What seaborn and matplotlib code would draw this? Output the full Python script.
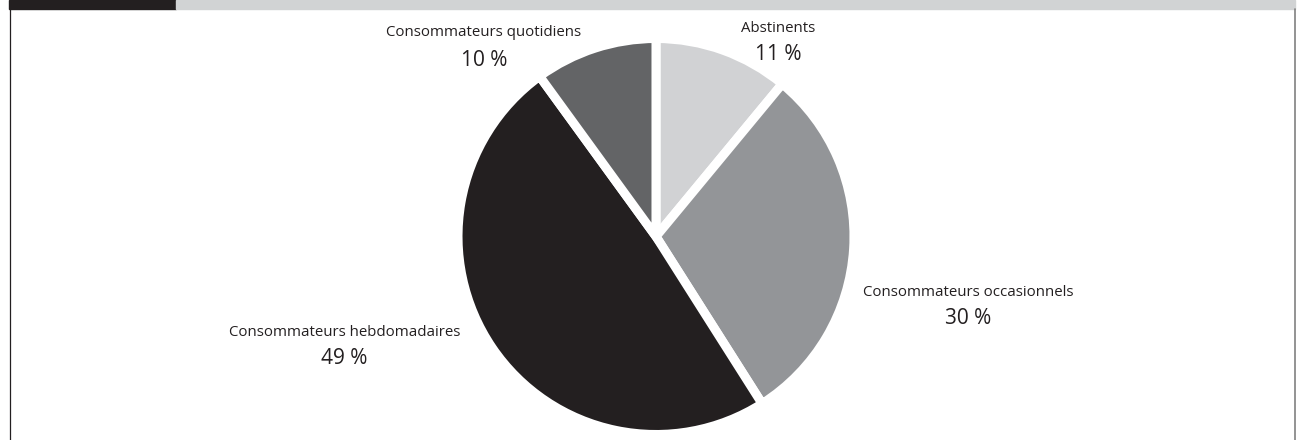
import matplotlib
matplotlib.use("Agg")
import matplotlib.pyplot as plt
import matplotlib.patches as mpatches
import matplotlib.lines as mlines
import seaborn as sns

# -------------------------
# DATA
# -------------------------
categories = ["Abstinents", "Consommateurs occasionnels",
              "Consommateurs hebdomadaires", "Consommateurs quotidiens"]
shares = [11, 30, 49, 10]
pct_labels = ["11 %", "30 %", "49 %", "10 %"]

# greys used in the original
colors = ["#d1d2d4", "#939598", "#231f20", "#636466"]

# label anchors (figure pixels): name line and percent line
name_pos = [(778, 29), (968, 292), (345, 332), (484, 33)]
pct_pos = [(778, 55), (968, 318), (344, 358), (484, 60)]

# -------------------------
# STYLE
# -------------------------
sns.set_theme(style="white")
plt.rcParams["font.family"] = ["Open Sans", "DejaVu Sans"]

W, H = 1300, 440
fig = plt.figure(figsize=(W / 100, H / 100), dpi=100)
fig.patch.set_facecolor("white")

# pie axes centred at (656, 236.5) px, radius 1 -> 198 px
cx, cy, r = 656, 236.5, 198
ax = fig.add_axes([(cx - r) / W, (H - cy - r) / H, 2 * r / W, 2 * r / H])
ax.pie(shares, colors=colors, startangle=90, counterclock=False,
       radius=1.0, wedgeprops=dict(edgecolor="white", linewidth=6.5))
ax.set_xlim(-1, 1)
ax.set_ylim(-1, 1)
ax.set_aspect("equal")
ax.axis("off")

# labels
txt_color = "#231f20"
for name, pct, (nx, ny), (px, py) in zip(categories, pct_labels, name_pos, pct_pos):
    fig.text(nx / W, 1 - ny / H, name, ha="center", va="center",
             fontsize=10.8, color=txt_color)
    fig.text(px / W, 1 - py / H, pct, ha="center", va="center",
             fontsize=15, color=txt_color)

# -------------------------
# FRAME (top band + side borders)
# -------------------------
band_h = 9
fig.patches.append(mpatches.Rectangle((9 / W, 1 - band_h / H), (176 - 9) / W, band_h / H,
                                      transform=fig.transFigure, color="#231f20", zorder=0))
fig.patches.append(mpatches.Rectangle((176 / W, 1 - band_h / H), (1295 - 176) / W, band_h / H,
                                      transform=fig.transFigure, color="#d1d3d4", zorder=0))
fig.lines.append(mlines.Line2D([9.5 / W, 9.5 / W], [0, 1 - band_h / H],
                               transform=fig.transFigure, color="#231f20", lw=0.9))
fig.lines.append(mlines.Line2D([1294.5 / W, 1294.5 / W], [0, 1 - band_h / H],
                               transform=fig.transFigure, color="#808080", lw=1.2))

fig.savefig("out.png", dpi=100, facecolor="white")
plt.close(fig)
